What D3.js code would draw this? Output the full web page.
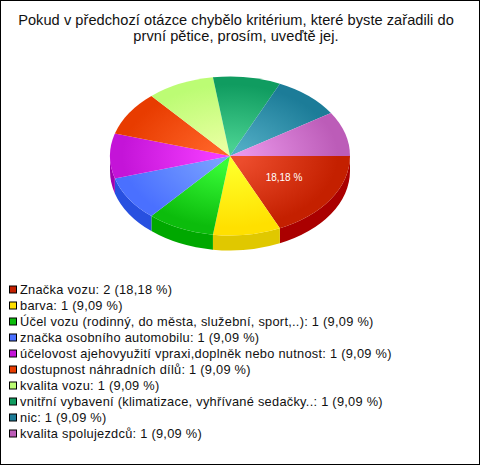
<!DOCTYPE html>
<html><head><meta charset="utf-8">
<script src="https://cdn.jsdelivr.net/npm/d3@7"></script>
<style>html,body{margin:0;padding:0;background:#fff}svg{display:block}text{font-family:"Liberation Sans",Arial,sans-serif}</style>
</head><body><svg id="c" width="480" height="465"></svg>
<script>
const titleLines=["Pokud v předchozí otázce chybělo kritérium, které byste zařadili do","první pětice, prosím, uveďtě jej."];
const categories=["Značka vozu","barva","Účel vozu (rodinný, do města, služební, sport,..)","značka osobního automobilu","účelovost ajehovyužití vpraxi,doplněk nebo nutnost","dostupnost náhradních dílů","kvalita vozu","vnitřní vybavení (klimatizace, vyhřívané sedačky..","nic","kvalita spolujezdců"];
const values=[2,1,1,1,1,1,1,1,1,1];
const percents=["18,18","9,09","9,09","9,09","9,09","9,09","9,09","9,09","9,09","9,09"];
const edgeColors=["#c42000","#ffe000","#0cbc0c","#4a70ff","#c414d8","#e83c00","#bcfc74","#109c60","#1c7c98","#bc5cb8"];
const midColors=["#ec4c2c","#ffff28","#38fc38","#78a0ff","#f43cff","#ff6428","#e8ffa0","#48d090","#50acc4","#e894e8"];
const sideColors=["#aa0000","#e0c800","#00a800","#2850e0","#a000b0","#c83000","#a0e060","#008050","#106880","#a04090"];
const W=480,H=465,cx=230,cy=156,rx=120,ry=79.5,depth=15,k=ry/rx;
const svg=d3.select("#c");
svg.append("rect").attr("x",0.5).attr("y",0.5).attr("width",W-1).attr("height",H-1).attr("fill","#fff").attr("stroke","#000").attr("stroke-width",1);
svg.append("g").selectAll("text").data(titleLines).join("text")
 .attr("x",236).attr("y",(d,i)=>25+i*16).attr("text-anchor","middle").attr("font-size",14.6).attr("letter-spacing",0.05).attr("fill","#111").text(d=>d);
const pieGen=d3.pie().sort(null).value(d=>d).startAngle(Math.PI/2).endAngle(Math.PI*2.5);
const arcs=pieGen(values);
const defs=svg.append("defs");
arcs.forEach((a,i)=>{
 const g=defs.append("radialGradient").attr("id","g"+i).attr("gradientUnits","userSpaceOnUse").attr("cx",0).attr("cy",0).attr("r",rx);
 g.append("stop").attr("offset","0").attr("stop-color",midColors[i]);
 g.append("stop").attr("offset","0.12").attr("stop-color",midColors[i]);
 g.append("stop").attr("offset","0.9").attr("stop-color",edgeColors[i]);
});
const root=svg.append("g").attr("transform",`translate(${cx},${cy}) scale(1,${k})`);
const dz=depth/k;
arcs.forEach((a,i)=>{
 const s=Math.max(a.startAngle,Math.PI/2),e=Math.min(a.endAngle,Math.PI*1.5);
 if(e<=s)return;
 const p=d3.path();
 p.arc(0,0,rx,s-Math.PI/2,e-Math.PI/2,false);
 p.arc(0,dz,rx,e-Math.PI/2,s-Math.PI/2,true);
 p.closePath();
 root.append("path").attr("d",p.toString()).attr("fill",sideColors[i]);
});
const arcGen=d3.arc().innerRadius(0).outerRadius(rx);
root.selectAll("path.top").data(arcs).join("path").attr("class","top").attr("d",arcGen).attr("fill",(d,i)=>`url(#g${i})`);
const mid=(arcs[0].startAngle+arcs[0].endAngle)/2;
svg.append("text").attr("x",cx+Math.sin(mid)*rx*0.535).attr("y",cy-Math.cos(mid)*ry*0.535+2).attr("text-anchor","middle").attr("font-size",10).attr("fill","#fff").text(percents[0]+" %");
const y=d3.scalePoint().domain(d3.range(categories.length)).range([289.5,433.5]);
const leg=svg.append("g").selectAll("g").data(categories).join("g").attr("transform",(d,i)=>`translate(0,${y(i)})`);
leg.append("rect").attr("x",9.5).attr("y",-3.5).attr("width",7).attr("height",7).attr("fill",(d,i)=>edgeColors[i]).attr("stroke","#000");
leg.append("text").attr("x",20).attr("y",4).attr("font-size",12.8).attr("letter-spacing",0.27).attr("fill","#111").text((d,i)=>`${d}: ${values[i]} (${percents[i]} %)`);
</script></body></html>
